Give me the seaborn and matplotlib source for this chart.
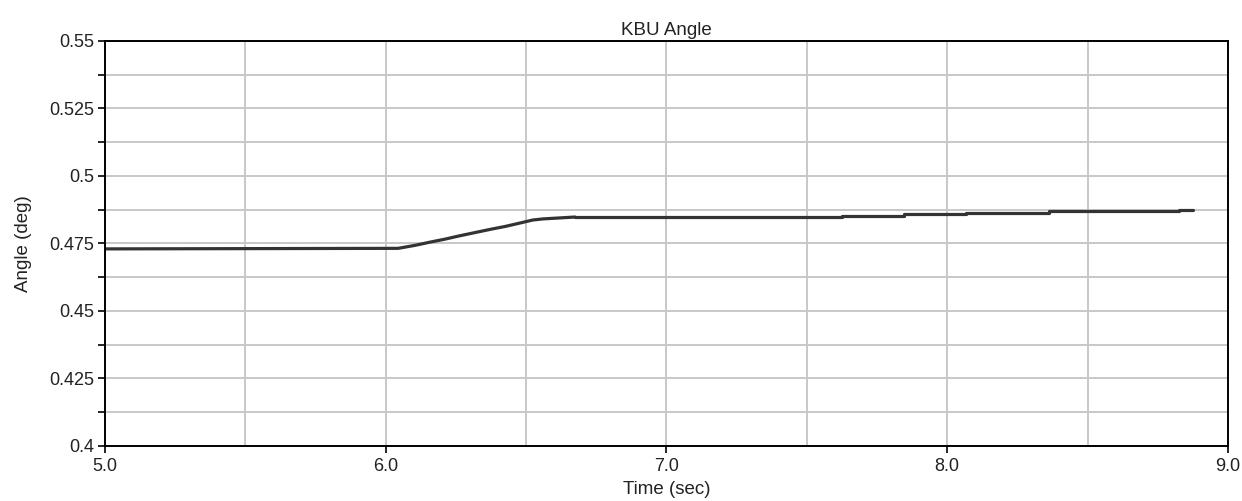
import numpy as np
import pandas as pd
import matplotlib
matplotlib.use("Agg")
import matplotlib.pyplot as plt
import seaborn as sns
from matplotlib.ticker import MultipleLocator, FuncFormatter

# =====================================================
# DATA
# =====================================================
# flat start + ramp: drawn as a plain line
ramp_time = [5.0, 6.044, 6.104, 6.158, 6.211, 6.257, 6.307, 6.371, 6.425,
             6.467, 6.524, 6.560, 6.674]
ramp_angle = [0.4730, 0.4732, 0.4743, 0.4755, 0.4766, 0.4777, 0.4788,
              0.4802, 0.4813, 0.4823, 0.4837, 0.4841, 0.4848]
# plateau: small recorded steps
step_time = [6.674, 7.625, 7.846, 8.067, 8.362, 8.826, 8.875]
step_angle = [0.4848, 0.4853, 0.4859, 0.4864, 0.4869, 0.4874, 0.4874]

x_major = [5.0, 6.0, 7.0, 8.0, 9.0]
y_major = [0.4, 0.425, 0.45, 0.475, 0.5, 0.525, 0.55]

ramp_df = pd.DataFrame({"t": ramp_time, "a": ramp_angle})
step_df = pd.DataFrame({"t": step_time, "a": step_angle})

# =====================================================
# STYLE
# =====================================================
sns.set_style("white")
plt.rcParams["font.family"] = ["Liberation Sans", "DejaVu Sans"]
plt.rcParams["font.size"] = 13

fig = plt.figure(figsize=(12.42, 5.01), dpi=100)
ax = fig.add_axes([0.0845, 0.1098, 0.9042, 0.8084])

sns.lineplot(data=ramp_df, x="t", y="a", ax=ax,
             color="#333333", linewidth=2.3)
sns.lineplot(data=step_df, x="t", y="a", ax=ax,
             color="#333333", linewidth=2.3, drawstyle="steps-post")

ax.set_xlim(5.0, 9.0)
ax.set_ylim(0.4, 0.55)
ax.set_xticks(x_major)
ax.set_yticks(y_major)
ax.xaxis.set_minor_locator(MultipleLocator(0.5))
ax.yaxis.set_minor_locator(MultipleLocator(0.0125))
ax.xaxis.set_major_formatter(FuncFormatter(lambda v, p: f"{v:.1f}"))
ax.yaxis.set_major_formatter(FuncFormatter(lambda v, p: f"{v:g}"))

ax.grid(True, which="both", color="#c8c8c8", linewidth=1.4)
ax.set_axisbelow(True)

ax.tick_params(axis="both", which="major", direction="out", length=5,
               width=1.2, color="black", labelsize=13, labelcolor="#222222")
ax.tick_params(axis="x", which="major", pad=4, bottom=True)
ax.tick_params(axis="y", which="major", pad=3, left=True)
ax.tick_params(axis="y", which="minor", direction="out", length=5,
               width=1.2, color="black", left=True)
ax.tick_params(axis="x", which="minor", length=0)

for s in ax.spines.values():
    s.set_color("black")
    s.set_linewidth(1.4)

ax.set_title("KBU Angle", fontsize=13.5, pad=4, color="#222222")
ax.set_xlabel("Time (sec)", fontsize=13.5, labelpad=4, color="#222222")
ax.set_ylabel("Angle (deg)", fontsize=13.5, labelpad=12, color="#222222")

fig.savefig("out.png", dpi=100)
